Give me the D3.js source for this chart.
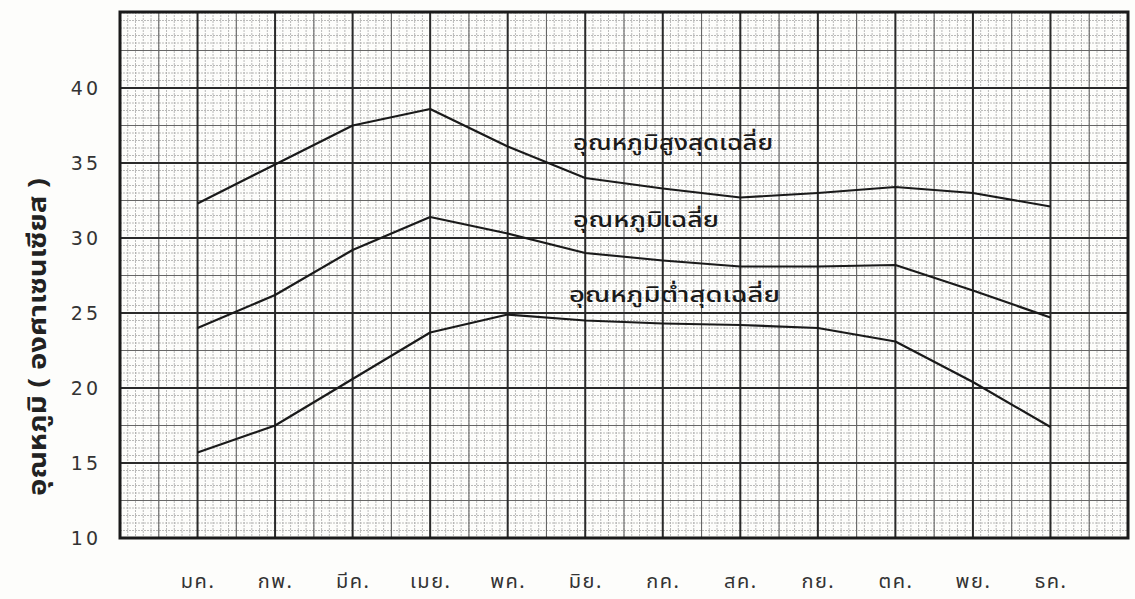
<!DOCTYPE html>
<html>
<head>
<meta charset="utf-8">
<script src="https://cdn.jsdelivr.net/npm/d3@7/dist/d3.min.js"></script>
<style>
  html, body { margin: 0; padding: 0; background: #fdfdfb; }
  svg { display: block; }
  .thai { font-family: "Noto Sans Thai", "Noto Sans Thai Looped", "Noto Sans", "DejaVu Sans", sans-serif; }
</style>
</head>
<body>
<svg id="chart" width="1135" height="599"></svg>
<script>
const months = ["มค.","กพ.","มีค.","เมย.","พค.","มิย.","กค.","สค.","กย.","ตค.","พย.","ธค."];
const maxTemp  = [32.3, 34.9, 37.5, 38.6, 36.1, 34.0, 33.3, 32.7, 33.0, 33.4, 33.0, 32.1];
const meanTemp = [24.0, 26.2, 29.2, 31.4, 30.3, 29.0, 28.5, 28.1, 28.1, 28.2, 26.5, 24.7];
const minTemp  = [15.7, 17.5, 20.6, 23.7, 24.9, 24.5, 24.3, 24.2, 24.0, 23.1, 20.4, 17.4];
const yTicks = [10, 15, 20, 25, 30, 35, 40];
const seriesLabels = ["อุณหภูมิสูงสุดเฉลี่ย", "อุณหภูมิเฉลี่ย", "อุณหภูมิต่ำสุดเฉลี่ย"];
const yTitle = "อุณหภูมิ ( องศาเซนเซียส )";

const svg = d3.select("#chart");
const pLeft = 120, pRight = 1128, pTop = 12, pBottom = 538;

// x: month index, frame spans -1 .. 12
const x = d3.scaleLinear().domain([-1, 12]).range([pLeft, pRight]);
const y = d3.scaleLinear().domain([10, 10 + (pBottom - pTop) / 15]).range([pBottom, pTop]);

const g = svg.append("g");

// minor grid
const xMinor = d3.range(-1, 12.0001, 0.1);
const yMinor = d3.range(10, y.domain()[1] + 0.001, 0.5);
g.append("g").selectAll("line").data(xMinor).join("line")
  .attr("x1", d => x(d)).attr("x2", d => x(d)).attr("y1", pTop).attr("y2", pBottom)
  .attr("stroke", "#a8a8a8").attr("stroke-width", 0.8).attr("stroke-dasharray", "2,1");
g.append("g").selectAll("line").data(yMinor).join("line")
  .attr("y1", d => y(d)).attr("y2", d => y(d)).attr("x1", pLeft).attr("x2", pRight)
  .attr("stroke", "#a8a8a8").attr("stroke-width", 0.8).attr("stroke-dasharray", "2,1");

// medium grid
const xMed = d3.range(-0.5, 12, 1);
const yMed = d3.range(12.5, y.domain()[1], 5);
g.append("g").selectAll("line").data(xMed).join("line")
  .attr("x1", d => x(d)).attr("x2", d => x(d)).attr("y1", pTop).attr("y2", pBottom)
  .attr("stroke", "#666").attr("stroke-width", 1.1);
g.append("g").selectAll("line").data(yMed).join("line")
  .attr("y1", d => y(d)).attr("y2", d => y(d)).attr("x1", pLeft).attr("x2", pRight)
  .attr("stroke", "#666").attr("stroke-width", 1.1);

// major grid
g.append("g").selectAll("line").data(d3.range(0, 12)).join("line")
  .attr("x1", d => x(d)).attr("x2", d => x(d)).attr("y1", pTop).attr("y2", pBottom)
  .attr("stroke", "#2a2a2a").attr("stroke-width", 2);
g.append("g").selectAll("line").data(yTicks.slice(1)).join("line")
  .attr("y1", d => y(d)).attr("y2", d => y(d)).attr("x1", pLeft).attr("x2", pRight)
  .attr("stroke", "#2a2a2a").attr("stroke-width", 2);

// frame
g.append("rect").attr("x", pLeft).attr("y", pTop).attr("width", pRight - pLeft).attr("height", pBottom - pTop)
  .attr("fill", "none").attr("stroke", "#1a1a1a").attr("stroke-width", 3);

// lines
const line = d3.line().x((d, i) => x(i)).y(d => y(d));
[maxTemp, meanTemp, minTemp].forEach(s => {
  g.append("path").datum(s).attr("d", line)
    .attr("fill", "none").attr("stroke", "#1a1a1a").attr("stroke-width", 2.2)
    .attr("stroke-linejoin", "round");
});

// series labels
const labelPos = [[573, 150, 200], [573, 227, 146], [569, 302, 211]];
seriesLabels.forEach((t, i) => {
  g.append("text").attr("class", "thai")
    .attr("x", labelPos[i][0]).attr("y", labelPos[i][1])
    .attr("font-size", 21).attr("fill", "#1a1a1a").attr("font-weight", 500)
    .attr("textLength", labelPos[i][2]).attr("lengthAdjust", "spacingAndGlyphs")
    .text(t);
});

// y axis labels
const yAxis = d3.axisLeft(y).tickValues(yTicks).tickSize(0).tickPadding(19).tickFormat(d3.format("d"));
const ya = svg.append("g").attr("transform", `translate(${pLeft},0)`).call(yAxis);
ya.select(".domain").remove();
ya.selectAll("text").attr("font-family", "DejaVu Sans, sans-serif").attr("font-size", 19)
  .attr("fill", "#333").attr("letter-spacing", 3);

// x axis labels
const xAxis = d3.axisBottom(x).tickValues(d3.range(0, 12)).tickSize(0).tickPadding(36)
  .tickFormat(i => months[i]);
const xa = svg.append("g").attr("transform", `translate(0,${pBottom})`).call(xAxis);
xa.select(".domain").remove();
xa.selectAll("text").attr("class", "thai").attr("font-family", null).attr("font-size", 20)
  .attr("fill", "#333").attr("letter-spacing", 1.5);

// y title
svg.append("text").attr("class", "thai")
  .attr("transform", `translate(46,337) rotate(-90)`)
  .attr("text-anchor", "middle").attr("font-size", 25).attr("font-weight", "bold").attr("fill", "#222")
  .attr("textLength", 318).attr("lengthAdjust", "spacingAndGlyphs")
  .text(yTitle);
</script>
</body>
</html>
